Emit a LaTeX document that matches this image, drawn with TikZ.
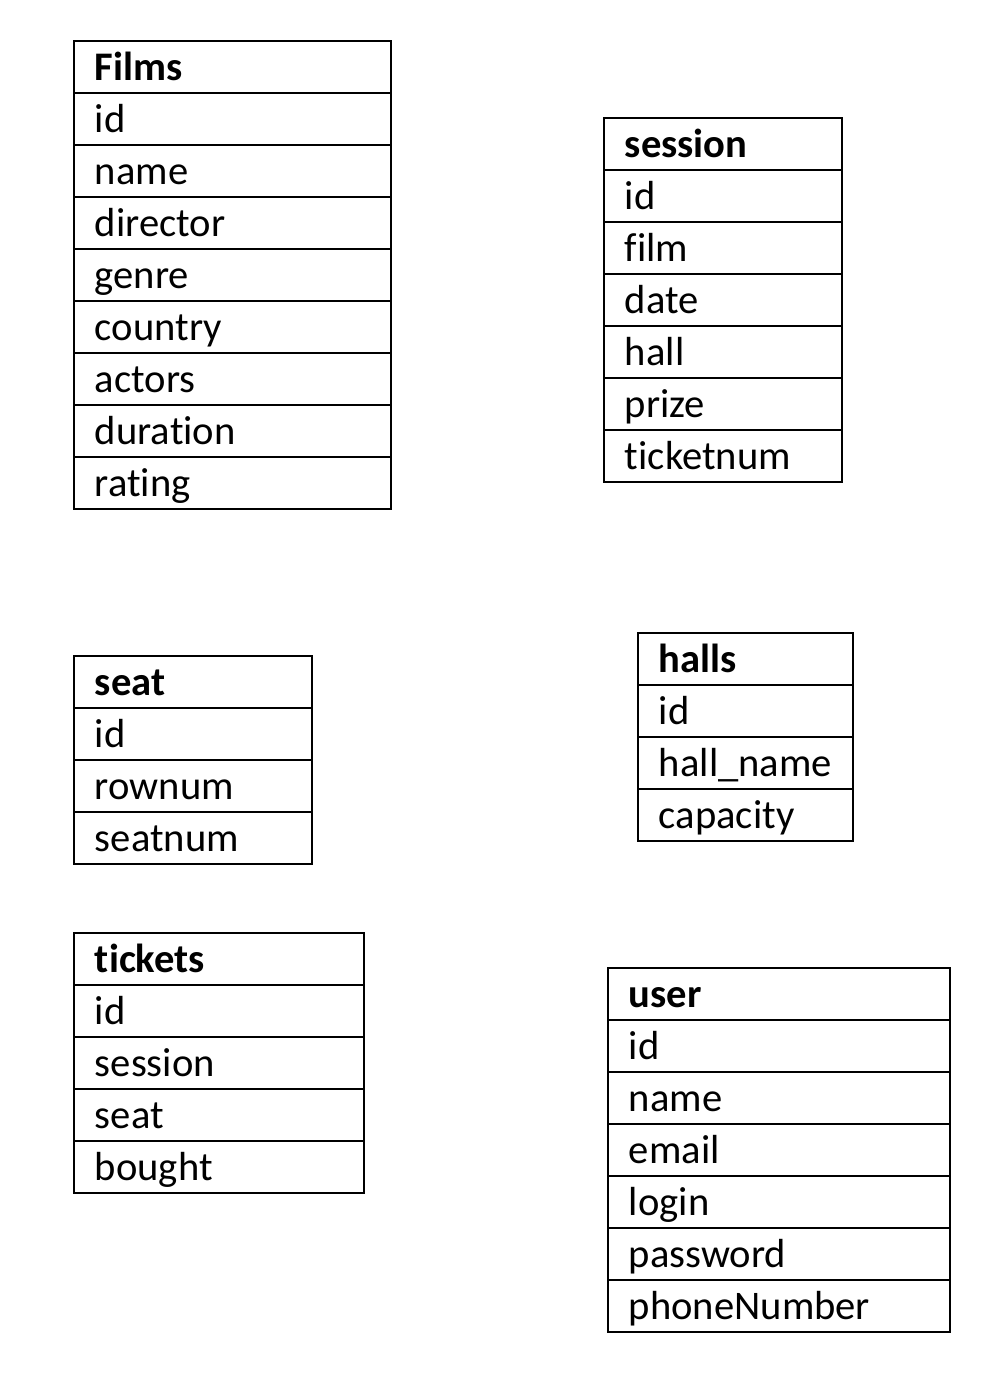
\documentclass[tikz,border=0pt]{standalone}
\usepackage{fontspec}
\setmainfont[Ligatures=NoCommon]{Carlito}
\usetikzlibrary{positioning}

\begin{document}
\begin{tikzpicture}[x=0.02cm, y=-0.02cm,
  every node/.style={font=\fontsize{23.1}{26}\selectfont},
  cell/.style={draw, line width=1.1pt, anchor=north west, text width=#1,
    inner xsep=0.42cm, inner ysep=0pt, minimum height=1.04cm,
    text height=0.6cm, text depth=0.06cm, align=left},
  head/.style={cell=#1, font=\fontsize{23.1}{26}\selectfont\bfseries}]
\useasboundingbox (0,0) rectangle (992,1374);
% Films
\node[head=5.5cm] (films-0) at (73,40) {Films};
\foreach \fld [count=\i] in {id, name, director, genre, country, actors, duration, rating}
  \node[cell=5.5cm] (films-\i) at (73,40+52*\i) {\fld};
% session
\node[head=3.92cm] (session-0) at (603,117) {session};
\foreach \fld [count=\i] in {id, film, date, hall, prize, ticketnum}
  \node[cell=3.92cm] (session-\i) at (603,117+52*\i) {\fld};
% seat
\node[head=3.92cm] (seat-0) at (73,655) {seat};
\foreach \fld [count=\i] in {id, rownum, seatnum}
  \node[cell=3.92cm] (seat-\i) at (73,655+52*\i) {\fld};
% halls
\node[head=3.46cm] (halls-0) at (637,632) {halls};
\foreach \fld [count=\i] in {id, hall\_name, capacity}
  \node[cell=3.46cm] (halls-\i) at (637,632+52*\i) {\fld};
% tickets
\node[head=4.96cm] (tickets-0) at (73,932) {tickets};
\foreach \fld [count=\i] in {id, session, seat, bought}
  \node[cell=4.96cm] (tickets-\i) at (73,932+52*\i) {\fld};
% user
\node[head=6.0cm] (user-0) at (607,967) {user};
\foreach \fld [count=\i] in {id, name, email, login, password, phoneNumber}
  \node[cell=6.0cm] (user-\i) at (607,967+52*\i) {\fld};
\end{tikzpicture}
\end{document}
